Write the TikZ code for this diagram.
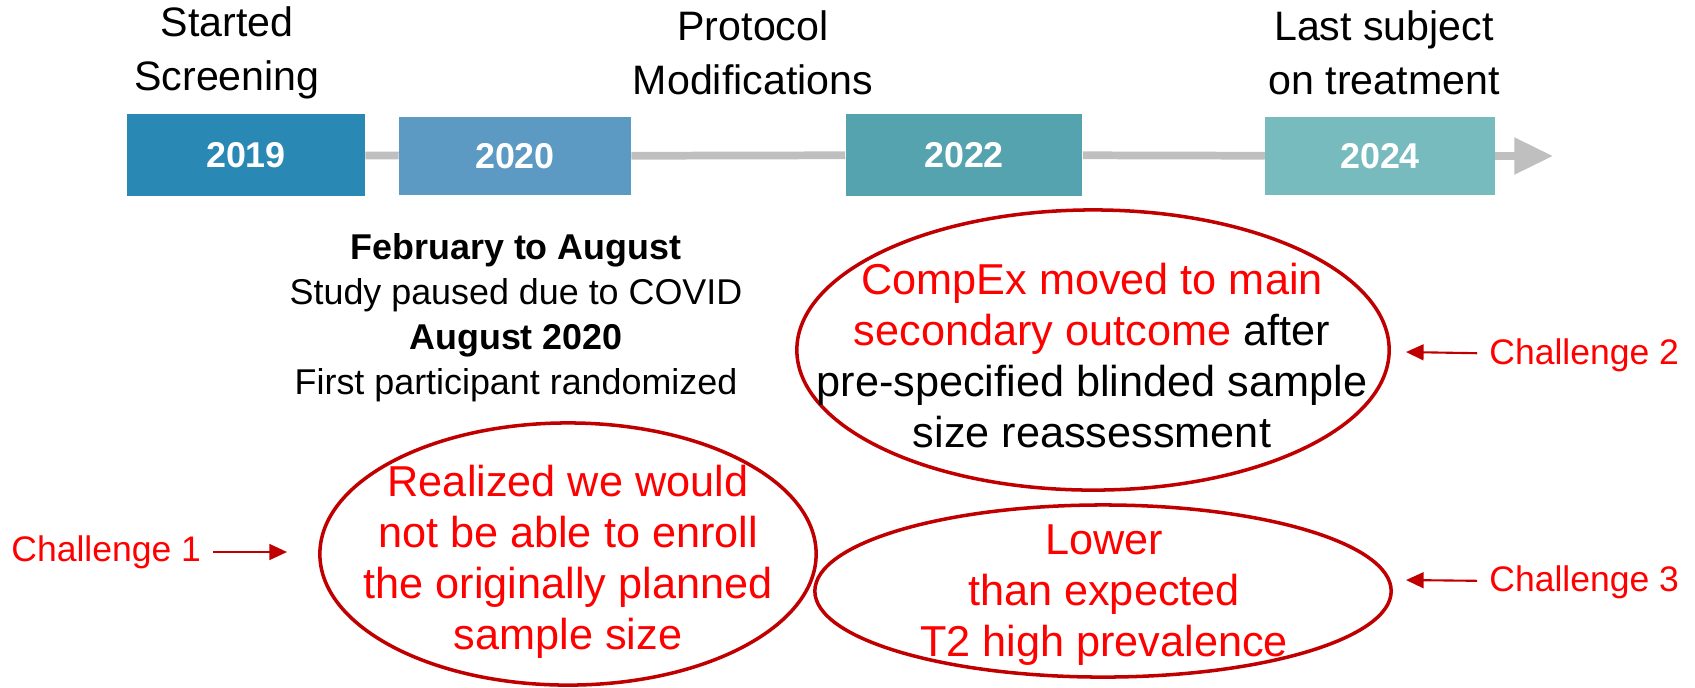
\documentclass[tikz,border=0pt]{standalone}
\usepackage{fontspec}
\setmainfont{Liberation Sans}
\usetikzlibrary{shapes.geometric,arrows.meta}

\begin{document}
\begin{tikzpicture}[x=0.01cm,y=-0.01cm]
    % ===================================
    % 設定
    % ===================================
    \definecolor{c2019}{HTML}{2A89B4}
    \definecolor{c2020}{HTML}{5C9AC3}
    \definecolor{c2022}{HTML}{55A3AF}
    \definecolor{c2024}{HTML}{77BBBE}
    \definecolor{axisgray}{HTML}{BFBFBF}
    \definecolor{darkred}{HTML}{C00000}
    \definecolor{hired}{HTML}{FF0000}

    \tikzset{
        year/.style n args={3}{fill=#1, text=white, inner sep=0pt,
            minimum width=#2, minimum height=#3,
            font=\fontsize{10.2}{12}\selectfont\bfseries},
        toplabel/.style={align=center, font=\fontsize{11.7}{15.4}\selectfont},
        bubble/.style={ellipse, draw=darkred, line width=1pt, inner sep=0pt},
        bubbletext/.style={align=center, font=\fontsize{12.3}{14.5}\selectfont},
        challenge/.style={text=hired, font=\fontsize{10.1}{12}\selectfont},
        pointer/.style={draw=darkred, line width=0.6pt,
            -{Triangle[length=5pt,width=4.5pt]}}
    }
    \useasboundingbox (0,0) rectangle (1695,687);
    % ===================================

    % 1. 年の箱
    \node[year={c2019}{2.37cm}{0.81cm}] (y2019) at (246,155) {2019};
    \node[year={c2020}{2.31cm}{0.78cm}] (y2020) at (515,156) {2020};
    \node[year={c2022}{2.36cm}{0.81cm}] (y2022) at (964,155) {2022};
    \node[year={c2024}{2.29cm}{0.78cm}] (y2024) at (1380,156) {2024};
    \coordinate (tip) at (1553,156);

    % 時間軸
    \foreach \a/\b in {y2019/y2020, y2020/y2022, y2022/y2024} {
        \draw[axisgray, line width=2.2pt] (\a) -- (\b);
    }
    \draw[axisgray, line width=2.2pt, -{Triangle[length=11pt,width=10pt]}]
        (y2024) -- (tip);
    % 箱を線の上に描き直す
    \node[year={c2019}{2.37cm}{0.81cm}] at (y2019) {2019};
    \node[year={c2020}{2.31cm}{0.78cm}] at (y2020) {2020};
    \node[year={c2022}{2.36cm}{0.81cm}] at (y2022) {2022};
    \node[year={c2024}{2.29cm}{0.78cm}] at (y2024) {2024};

    % 2. 上のラベル
    \node[toplabel] (started) at (227,53) {Started\\Screening};
    \node[toplabel] (protocol) at (753,53) {Protocol\\Modifications};
    \node[toplabel] (last) at (1384,53) {Last subject\\on treatment};

    % COVID の説明
    \node[align=center, font=\fontsize{10.2}{12.8}\selectfont] (covid) at (516,318)
        {\textbf{February to August}\\Study paused due to COVID\\
         \textbf{August 2020}\\First participant randomized};

    % 3. 楕円
    \node[bubble, minimum width=4.96cm, minimum height=2.62cm] (ell1) at (568,554) {};
    \node[bubble, minimum width=5.92cm, minimum height=2.80cm] (ell2) at (1093,350) {};
    \node[bubble, minimum width=5.76cm, minimum height=1.72cm] (ell3) at (1103,591) {};

    \node[bubbletext, text=hired] (txt1) at (568,562)
        {Realized we would\\not be able to enroll\\the originally planned\\sample size};
    \node[bubbletext] (txt2) at (1092,356)
        {\textcolor{hired}{CompEx moved to main}\\
         \textcolor{hired}{secondary outcome} after\\
         pre-specified blinded sample\\size reassessment};
    \node[bubbletext, text=hired] (txt3) at (1104,595)
        {Lower\\than expected\\T2 high prevalence};

    % 4. Challenge と矢印
    \node[challenge, anchor=west] (ch1) at (-1,552) {Challenge 1};
    \node[challenge, anchor=west] (ch2) at (1477,355) {Challenge 2};
    \node[challenge, anchor=west] (ch3) at (1477,582) {Challenge 3};
    \coordinate (p1) at (287,552);
    \coordinate (p2) at (1406,352);
    \coordinate (p3) at (1406,580);

    \draw[pointer] (ch1) -- (p1);
    \draw[pointer] (ch2) -- (p2);
    \draw[pointer] (ch3) -- (p3);

\end{tikzpicture}
\end{document}
